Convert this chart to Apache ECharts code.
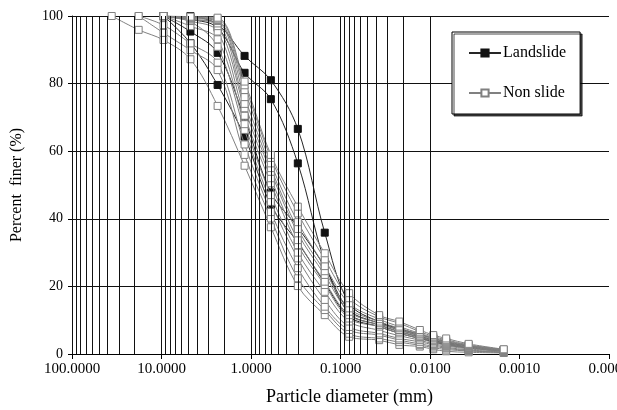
<!DOCTYPE html>
<html>
<head>
<meta charset="utf-8">
<script src="https://cdn.jsdelivr.net/npm/echarts@6/dist/echarts.min.js"></script>
<style>html,body{margin:0;padding:0;background:#fff}#c{width:617px;height:410px}</style>
</head>
<body>
<div id="c"></div>
<script>
// Particle diameters (mm): sieve sizes then hydrometer sizes
const diameters = [36, 18, 9.5, 4.75, 2.36, 1.18, 0.6, 0.3, 0.15, 0.08, 0.037, 0.022, 0.013, 0.0092, 0.0066, 0.0037, 0.0015];
const xTickLabels = ['100.0000', '10.0000', '1.0000', '0.1000', '0.0100', '0.0010', '0.0001'];
const yTickLabels = ['0', '20', '40', '60', '80', '100'];

// Percent finer (%) – Landslide samples
const landslide1 = [null, null, null, 100, 97.6, 88.2, 81.0, 66.6, 35.9, 15.0, 9.5, 7.5, 5.8, 4.6, 3.6, 2.4, 1.2];
const landslide2 = [null, null, 100, 99.0, 96.5, 83.2, 75.4, 56.4, 27.3, 12.0, 8.6, 6.6, 5.0, 3.8, 3.0, 2.0, 1.0];
const landslide3 = [null, null, 100, 95.4, 89.1, 69.7, 47.8, 37.5, 25.8, 13.0, 9.1, 7.1, 5.4, 4.1, 3.3, 2.2, 1.1];
const landslide4 = [null, null, 100, 92.0, 79.6, 64.3, 44.0, 33.0, 21.0, 11.0, 8.1, 6.1, 4.6, 3.6, 2.7, 1.8, 0.9];

// Percent finer (%) – Non slide samples
const nonslide1  = [100, 95.9, 92.9, 87.2, 73.4, 55.7, 37.5, 20.1, 11.5, 5.1, 4.1, 2.7, 2.2, 1.4, 0.8, 0.5, 0.3];
const nonslide2  = [null, 100, 95.0, 89.9, 84.0, 58.9, 40.1, 22.4, 13.0, 6.0, 4.6, 3.5, 2.6, 1.9, 1.3, 0.9, 0.4];
const nonslide3  = [null, 100, 97.3, 91.9, 86.2, 62.0, 42.0, 25.4, 14.0, 7.1, 5.6, 4.1, 3.0, 2.3, 1.7, 1.0, 0.5];
const nonslide4  = [null, null, 99.6, 98.3, 90.9, 66.3, 45.0, 28.3, 16.0, 8.0, 6.1, 4.6, 3.6, 2.7, 2.0, 1.2, 0.6];
const nonslide5  = [null, null, 100, 97.0, 93.1, 68.0, 47.0, 30.0, 18.4, 9.6, 7.0, 5.4, 4.1, 3.0, 2.4, 1.5, 0.8];
const nonslide6  = [null, null, 100, 98.5, 95.4, 70.5, 50.5, 32.2, 20.4, 10.5, 8.1, 6.1, 4.6, 3.4, 2.7, 1.8, 0.9];
const nonslide7  = [null, null, 100, 99.0, 97.0, 72.7, 52.0, 33.7, 21.4, 11.5, 8.6, 6.6, 5.0, 3.8, 3.0, 2.0, 1.0];
const nonslide8  = [null, null, 100, 99.0, 97.8, 74.0, 53.9, 35.7, 23.4, 12.5, 9.1, 7.1, 5.4, 4.2, 3.3, 2.2, 1.1];
const nonslide9  = [null, null, 100, 99.3, 98.5, 76.0, 55.0, 37.0, 24.5, 13.5, 9.6, 7.6, 5.8, 4.6, 3.6, 2.4, 1.2];
const nonslide10 = [null, null, 100, 99.5, 98.8, 78.1, 56.4, 39.0, 26.0, 15.0, 10.3, 8.1, 6.1, 4.9, 3.9, 2.6, 1.2];
const nonslide11 = [null, null, 100, 99.6, 99.2, 79.5, 58.0, 41.6, 28.0, 16.5, 11.0, 9.1, 6.6, 5.2, 4.2, 2.7, 1.3];
const nonslide12 = [null, null, 100, 99.8, 99.5, 80.6, 58.9, 43.6, 29.8, 18.0, 11.5, 9.6, 7.1, 5.6, 4.6, 3.0, 1.4];

const landslideSets = [landslide1, landslide2, landslide3, landslide4];
const nonslideSets = [nonslide1, nonslide2, nonslide3, nonslide4, nonslide5, nonslide6,
  nonslide7, nonslide8, nonslide9, nonslide10, nonslide11, nonslide12];

const FONT = '"Liberation Serif", "DejaVu Serif", serif';

function pairs(vals) {
  const out = [];
  vals.forEach((v, i) => { if (v !== null) out.push([diameters[i], v]); });
  return out;
}

// log grid line positions (1..9 x 10^e)
const gridLines = [];
for (let e = -4; e <= 1; e++) {
  for (let k = 1; k <= 9; k++) gridLines.push({ xAxis: +(k * Math.pow(10, e)).toPrecision(3) });
}
gridLines.push({ xAxis: 100 });

const series = [{
  name: '_grid', type: 'line', data: [], z: 1, silent: true,
  markLine: {
    silent: true, symbol: ['none', 'none'], animation: false,
    label: { show: false },
    lineStyle: { color: '#111', width: 1, type: 'solid' },
    emphasis: { disabled: true },
    data: gridLines
  }
}];

landslideSets.forEach(s => series.push({
  name: 'Landslide', type: 'line', smooth: 0.35, z: 3, connectNulls: true,
  data: pairs(s), symbol: 'rect', symbolSize: 7,
  lineStyle: { color: '#262626', width: 1 },
  itemStyle: { color: '#111111', borderColor: '#111111', borderWidth: 1 },
  animation: false
}));
nonslideSets.forEach(s => series.push({
  name: 'Non slide', type: 'line', smooth: 0.35, z: 4, connectNulls: true,
  data: pairs(s), symbol: 'rect', symbolSize: 7,
  lineStyle: { color: '#808080', width: 1 },
  itemStyle: { color: '#ffffff', borderColor: '#808080', borderWidth: 1 },
  animation: false
}));

const chart = echarts.init(document.getElementById('c'), null, { renderer: 'canvas' });
chart.setOption({
  backgroundColor: '#ffffff',
  animation: false,
  grid: { left: 72, right: 8, top: 16, bottom: 56, containLabel: false, outerBoundsMode: 'none' },
  legend: {
    data: ['Landslide', 'Non slide'],
    orient: 'vertical', left: 452, top: 32,
    width: 132,
    padding: [13, 14, 13, 16],
    itemGap: 24, itemWidth: 32, itemHeight: 9,
    backgroundColor: '#ffffff', borderColor: '#000', borderWidth: 1,
    shadowColor: 'rgba(0,0,0,0.7)', shadowOffsetX: 2, shadowOffsetY: 2, shadowBlur: 0,
    textStyle: { fontFamily: FONT, fontSize: 16, color: '#000', padding: [0, 0, 0, -3] },
    selectedMode: false
  },
  xAxis: {
    type: 'log', logBase: 10, min: 0.0001, max: 100, inverse: true,
    name: 'Particle diameter (mm)', nameLocation: 'middle', nameGap: 34,
    nameTextStyle: { fontFamily: FONT, fontSize: 18, color: '#000', padding: [0, 0, 0, 18] },
    axisLine: { show: true, lineStyle: { color: '#000', width: 1 } },
    axisTick: { show: true, inside: false, length: 5, lineStyle: { color: '#000' } },
    splitLine: { show: false },
    minorTick: { show: false },
    axisLabel: {
      fontFamily: FONT, fontSize: 15, color: '#000', margin: 8,
      showMinLabel: true, showMaxLabel: true, hideOverlap: false,
      formatter: v => {
        const e = Math.round(Math.log10(v));
        return xTickLabels[2 - e];
      }
    }
  },
  yAxis: {
    type: 'value', min: 0, max: 100, interval: 20,
    name: 'Percent  finer (%)', nameLocation: 'middle', nameGap: 47, nameRotate: 90,
    nameTextStyle: { fontFamily: FONT, fontSize: 16, color: '#000' },
    axisLine: { show: true, lineStyle: { color: '#000', width: 1 } },
    axisTick: { show: true, inside: false, length: 4, lineStyle: { color: '#000' } },
    splitLine: { show: true, lineStyle: { color: '#111', width: 1 } },
    axisLabel: {
      fontFamily: FONT, fontSize: 14, color: '#000', margin: 9,
      formatter: v => yTickLabels[Math.round(v / 20)]
    }
  },
  series: series
});
</script>
</body>
</html>
